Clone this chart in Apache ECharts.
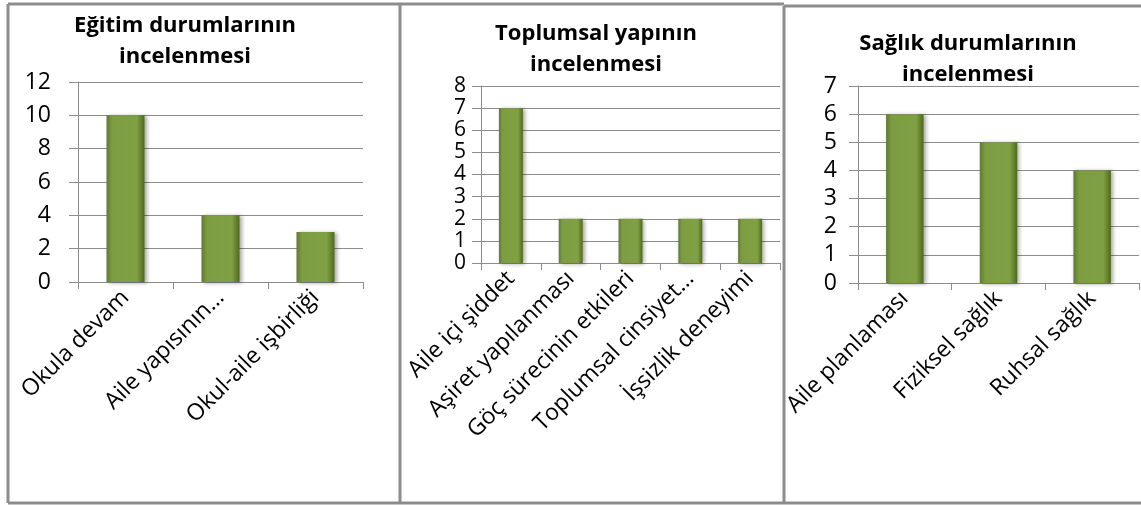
<!DOCTYPE html>
<html lang="tr">

<head>
    <meta charset="utf-8">
    <title>index</title>
    <style>
        html, body { margin: 0; padding: 0; background: #fff; }
    </style>
</head>

<body>
    <div id="main" style="width: 1141px;height:505px;"></div>
    <script src="https://cdn.jsdelivr.net/npm/echarts@6/dist/echarts.min.js"></script>

    <script>
        // 数据
        var egitimCats = ['Okula devam', 'Aile yapısının…', 'Okul-aile işbirliği'];
        var egitimVals = [10, 4, 3];
        var toplumCats = ['Aile içi şiddet', 'Aşiret yapılanması', 'Göç sürecinin etkileri', 'Toplumsal cinsiyet…', 'İşsizlik deneyimi'];
        var toplumVals = [7, 2, 2, 2, 2];
        var saglikCats = ['Aile planlaması', 'Fiziksel sağlık', 'Ruhsal sağlık'];
        var saglikVals = [6, 5, 4];
        var titles = ['Eğitim durumlarının\nincelenmesi', 'Toplumsal yapının\nincelenmesi', 'Sağlık durumlarının\nincelenmesi'];

        var myChart = echarts.init(document.getElementById('main'));
        var font = '"Open Sans", "Noto Sans", sans-serif';
        var gray = '#8c8c8c';

        // 柱子渐变
        var barColor = {
            type: 'linear', x: 0, y: 0, x2: 1, y2: 0,
            colorStops: [
                { offset: 0, color: '#5f7c2b' },
                { offset: 0.15, color: '#7d9d42' },
                { offset: 0.8, color: '#80a044' },
                { offset: 1, color: '#4e6822' }
            ]
        };

        function xAx(i, cats) {
            return {
                type: 'category', gridIndex: i, data: cats,
                axisLine: { lineStyle: { color: gray } },
                axisTick: { show: true, length: 7, lineStyle: { color: gray } },
                axisLabel: { rotate: 45, interval: 0, color: '#000', fontFamily: font, fontSize: 23, margin: 12 }
            };
        }
        function yAx(i, max, margin, size) {
            return {
                type: 'value', gridIndex: i, min: 0, max: max, interval: (max == 12 ? 2 : 1),
                axisLine: { show: true, lineStyle: { color: gray } },
                axisTick: { show: true, length: 9, inside: false, lineStyle: { color: gray } },
                splitLine: { lineStyle: { color: gray, width: 1 } },
                axisLabel: {
                    color: '#000', fontFamily: font, fontSize: size, margin: margin,
                    showMinLabel: true, showMaxLabel: true
                }
            };
        }
        function ser(i, vals) {
            return {
                type: 'bar', xAxisIndex: i, yAxisIndex: i, data: vals, barWidth: '40%',
                itemStyle: {
                    color: barColor,
                    shadowColor: 'rgba(0,0,0,0.35)', shadowBlur: 4, shadowOffsetX: 2, shadowOffsetY: 1
                },
                animation: false
            };
        }
        function ttl(text, x, y) {
            return {
                text: text, left: x, top: y, textAlign: 'center', padding: 0,
                textStyle: { fontFamily: font, fontSize: 22, fontWeight: 'bold', color: '#000', lineHeight: 31 }
            };
        }
        function line(x1, y1, x2, y2) {
            return {
                type: 'line', silent: true,
                shape: { x1: x1, y1: y1, x2: x2, y2: y2 },
                style: { stroke: gray, lineWidth: 3 }
            };
        }

        var option = {
            backgroundColor: '#fff',
            title: [
                ttl(titles[0], 185, 10),
                ttl(titles[1], 596, 18),
                ttl(titles[2], 968, 28)
            ],
            grid: [
                { left: 78, top: 82, width: 285, height: 200 },
                { left: 481, top: 86, width: 299, height: 177 },
                { left: 858, top: 86, width: 281, height: 197 }
            ],
            xAxis: [xAx(0, egitimCats), xAx(1, toplumCats), xAx(2, saglikCats)],
            yAxis: [yAx(0, 12, 27, 23), yAx(1, 8, 15, 21), yAx(2, 7, 21, 23)],
            series: [ser(0, egitimVals), ser(1, toplumVals), ser(2, saglikVals)],
            // 面板边框
            graphic: [
                line(8, 4, 400, 4),
                line(8, 4, 8, 503),
                line(8, 503, 1141, 503),
                line(400, 4, 400, 503),
                line(400, 4, 784, 4),
                line(784, 6, 784, 503),
                line(784, 6, 1141, 6)
            ]
        };

        myChart.setOption(option);
    </script>
</body>

</html>
